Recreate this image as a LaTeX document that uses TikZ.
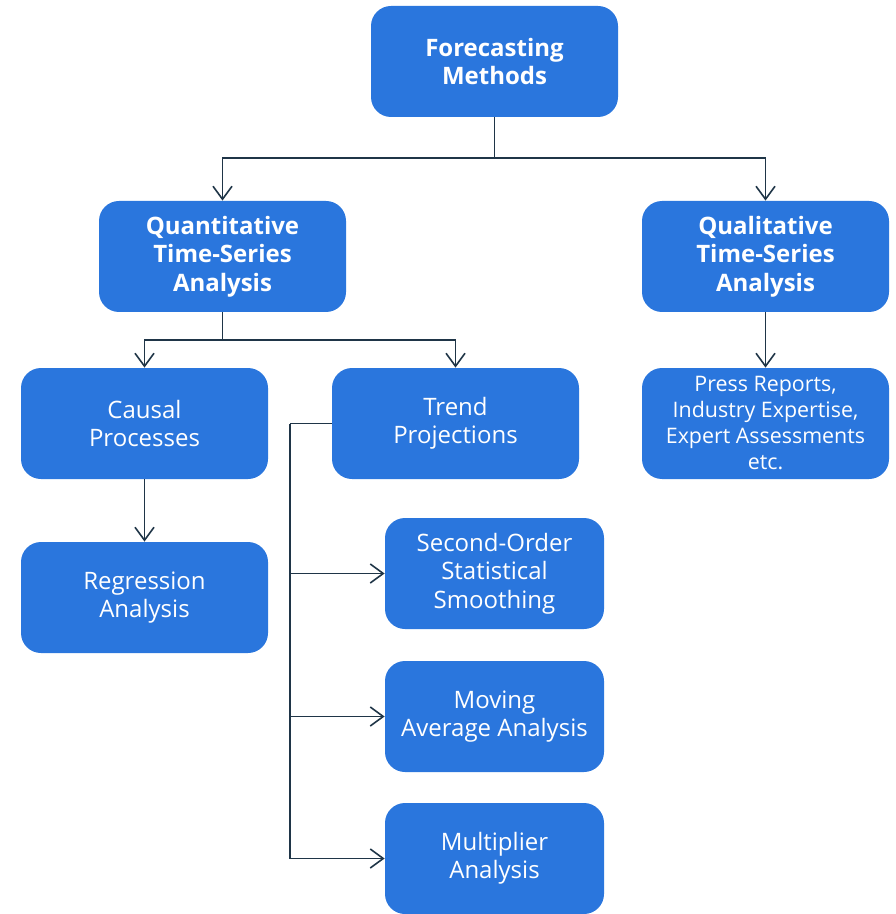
\documentclass[tikz,border=0pt]{standalone}
\usepackage{fontspec}
\setmainfont{Open Sans}
\usepackage{tikz}
\usetikzlibrary{arrows.meta,positioning}
\definecolor{fcblue}{HTML}{2A76DD}
\definecolor{fcline}{HTML}{1F3547}

\begin{document}
\begin{tikzpicture}[
  x=0.5pt, y=-0.5pt,
  font=\fontsize{12}{14.2}\selectfont, every node/.style={align=center},
  blk/.style={rounded corners=10pt,fill=fcblue,text=white,
              minimum width=123.5pt,minimum height=55.5pt,inner sep=2pt},
  head/.style={blk,font=\fontsize{12}{14.2}\selectfont\bfseries},
  sub/.style={blk,minimum width=109.5pt},
  arr/.style={-{Straight Barb[length=6.5pt,width=9.5pt]},line width=0.8pt,fcline},
  conn/.style={line width=0.8pt,fcline}
]
\useasboundingbox (0,0) rectangle (895,914);

\node[head] (fm)    at (494.5,61.5)  {Forecasting\\Methods};
\node[head] (quant) at (222.5,256.5) {Quantitative\\Time-Series\\Analysis};
\node[head] (qual)  at (765.5,256.5) {Qualitative\\Time-Series\\Analysis};
\node[blk]  (causal) at (144.5,423.5) {Causal\\Processes};
\node[blk]  (trend)  at (455.5,423.5) {Trend\\Projections};
\node[blk,font=\fontsize{10.7}{13}\selectfont] (press) at (765.5,423.5)
  {Press Reports,\\Industry Expertise,\\Expert Assessments\\etc.};
\node[blk]  (regr)   at (144.5,597.5) {Regression\\Analysis};
\node[sub]  (second) at (494.5,573.5) {Second-Order\\Statistical\\Smoothing};
\node[sub]  (moving) at (494.5,716.5) {Moving\\Average Analysis};
\node[sub]  (mult)   at (494.5,858.5) {Multiplier\\Analysis};

\coordinate (fmj) at (494.5,158);
\coordinate (qj)  at (222.5,340);
\coordinate (tj)  at (290,423.5);

\draw[conn] (fm.south) -- (fmj);
\draw[arr] (fmj) -| (quant.north);
\draw[arr] (fmj) -| (qual.north);

\draw[conn] (quant.south) -- (qj);
\draw[arr] (qj) -| (causal.north);
\draw[arr] (qj) -| (trend.north);

\draw[arr] (qual) -- (press);
\draw[arr] (causal) -- (regr);

\draw[conn] (trend.west) -- (tj);
\draw[arr] (tj) |- (second.west);
\draw[arr] (tj) |- (moving.west);
\draw[arr] (tj) |- (mult.west);
\end{tikzpicture}
\end{document}
